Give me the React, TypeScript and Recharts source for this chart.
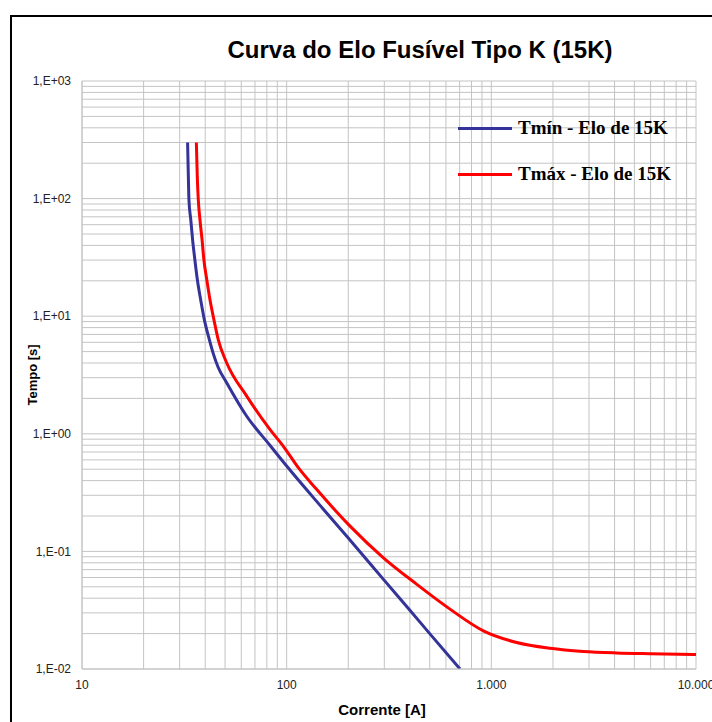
import React from "react";
import {
  LineChart, Line, XAxis, YAxis, CartesianGrid,
} from "recharts";

// corrente [A] x tempo [s]
const tminCorrente = [32.8, 33.1, 33.3, 34.0, 34.7, 35.6, 36.6, 38.0, 39.6, 41.9, 43.8, 46.2, 50.9, 63.8, 82.8, 100, 150, 200, 300, 400, 500, 703];
const tminTempo = [300, 150, 97.7, 66.1, 44.7, 30.2, 20.5, 13.8, 9.36, 6.33, 4.81, 3.7, 2.72, 1.41, 0.8, 0.532, 0.232, 0.13, 0.0567, 0.0316, 0.02, 0.01];

const tmaxCorrente = [36.2, 36.6, 37.0, 37.7, 38.6, 39.4, 40.7, 42.2, 44.1, 46.3, 50.9, 63.8, 82.8, 96.2, 114, 140, 204, 296, 431, 628, 914, 1330, 1933, 2812, 4093, 5957, 10000];
const tmaxTempo = [300, 150, 97.7, 66.1, 44.7, 30.2, 20.5, 13.8, 9.36, 6.33, 4.02, 2.09, 1.09, 0.787, 0.515, 0.337, 0.164, 0.0887, 0.0527, 0.0323, 0.0211, 0.0168, 0.015, 0.0141, 0.0137, 0.0135, 0.0133];

const decadasX = [10, 100, 1000, 10000];
const decadasY = [0.01, 0.1, 1, 10, 100, 1000];

const SERIES = [
  { key: "tmin", name: "Tmín - Elo de 15K", color: "#333399", x: tminCorrente, y: tminTempo },
  { key: "tmax", name: "Tmáx - Elo de 15K", color: "#ff0000", x: tmaxCorrente, y: tmaxTempo },
];

const GRID = "#c4c4c4";
const SANS = "'Liberation Sans', Arial, sans-serif";

// linhas de grade em 1..9 de cada década
function gradeLog(decadas: number[]) {
  const out: number[] = [];
  decadas.forEach((d, i) => {
    if (i === decadas.length - 1) { out.push(d); return; }
    for (let m = 1; m < 10; m++) out.push(+(d * m).toPrecision(6));
  });
  return out;
}

const ticksX = gradeLog(decadasX);
const ticksY = gradeLog(decadasY);

const isDecada = (v: number) => Math.abs(Math.log10(v) - Math.round(Math.log10(v))) < 1e-6;

const fmtX = (v: number) => {
  if (!isDecada(v)) return "";
  return String(Math.round(v)).replace(/\B(?=(\d{3})+(?!\d))/g, ".");
};

const fmtY = (v: number) => {
  if (!isDecada(v)) return "";
  const e = Math.round(Math.log10(v));
  const s = e < 0 ? "-" : "+";
  return `1,E${s}${String(Math.abs(e)).padStart(2, "0")}`;
};

function LegendaCurvas() {
  return (
    <div style={{
      position: "absolute", left: 458, top: 117,
      fontFamily: "'Liberation Serif', 'Times New Roman', serif", fontWeight: "bold", fontSize: 19,
    }}>
      {SERIES.map((s, i) => (
        <div key={s.key} style={{ display: "flex", alignItems: "center", height: 22, marginTop: i === 0 ? 0 : 24 }}>
          <div style={{ width: 54, height: 3, background: s.color, marginRight: 6 }} />
          <span style={{ color: "#000" }}>{s.name}</span>
        </div>
      ))}
    </div>
  );
}

export default function App() {
  return (
    <div style={{ position: "absolute", left: 0, top: 0, width: 712, height: 722, overflow: "hidden", background: "#fff" }}>
      <div style={{
        position: "absolute", left: 10, top: 15, width: 720, height: 720,
        borderLeft: "2px solid #000", borderTop: "2px solid #000",
      }} />
      <div style={{
        position: "absolute", left: 82, width: 676, top: 36, textAlign: "center",
        fontFamily: SANS, fontWeight: "bold", fontSize: 24, color: "#000",
      }}>
        Curva do Elo Fusível Tipo K (15K)
      </div>
      <div style={{
        position: "absolute", left: 75, width: 614, top: 701, textAlign: "center",
        fontFamily: SANS, fontWeight: "bold", fontSize: 15, color: "#000",
      }}>
        Corrente [A]
      </div>
      <div style={{
        position: "absolute", left: 32, top: 375, transform: "translate(-50%, -50%) rotate(-90deg)",
        whiteSpace: "nowrap", fontFamily: SANS, fontWeight: "bold", fontSize: 13, color: "#000",
      }}>
        Tempo [s]
      </div>
      <LineChart width={712} height={722} margin={{ top: 81, right: 16, bottom: 23, left: 20 }} style={{ position: "absolute", left: 0, top: 0 }}>
        <CartesianGrid stroke={GRID} strokeWidth={1} />
        <XAxis
          type="number"
          dataKey="x"
          scale="log"
          domain={[10, 10000]}
          allowDataOverflow
          ticks={ticksX}
          interval={0}
          tickFormatter={fmtX}
          tickLine={false}
          axisLine={{ stroke: GRID }}
          tickMargin={5}
          height={30}
          tick={{ fill: "#222", fontSize: 12, fontFamily: SANS }}
        />
        <YAxis
          type="number"
          dataKey="y"
          scale="log"
          domain={[0.01, 1000]}
          allowDataOverflow
          ticks={ticksY}
          interval={0}
          tickFormatter={fmtY}
          tickLine={false}
          axisLine={{ stroke: GRID }}
          tickMargin={5}
          width={62}
          tick={{ fill: "#222", fontSize: 12, fontFamily: SANS }}
        />
        {SERIES.map((s) => (
          <Line
            key={s.key}
            name={s.name}
            data={s.x.map((x, i) => ({ x, y: s.y[i] }))}
            dataKey="y"
            type="monotone"
            stroke={s.color}
            strokeWidth={3}
            dot={false}
            isAnimationActive={false}
          />
        ))}
      </LineChart>
      <LegendaCurvas />
    </div>
  );
}
